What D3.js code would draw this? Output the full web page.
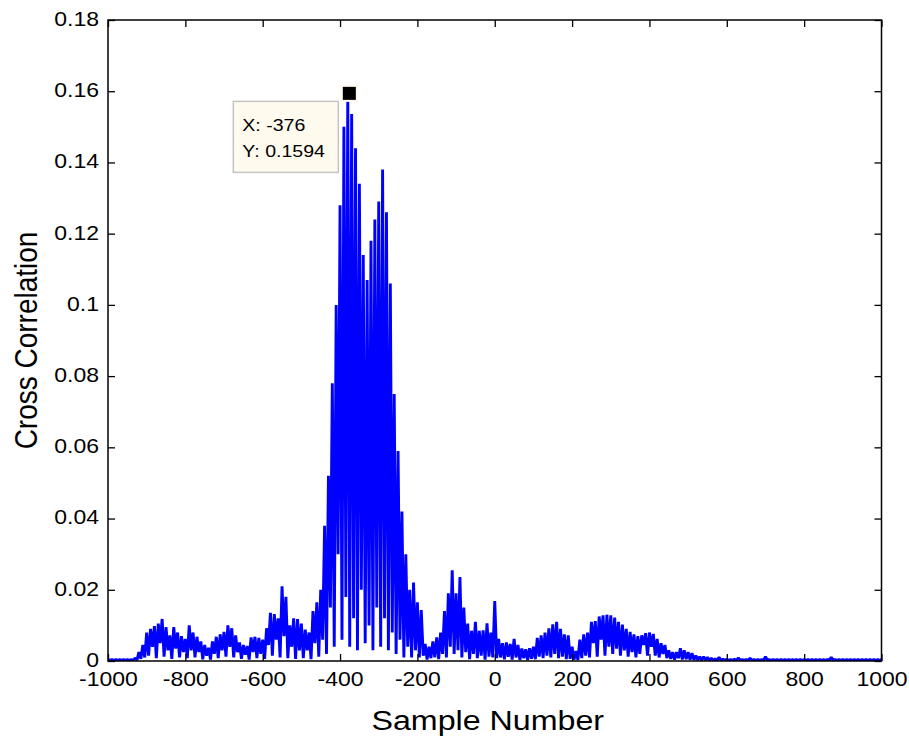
<!DOCTYPE html>
<html>
<head>
<meta charset="utf-8">
<script src="https://cdn.jsdelivr.net/npm/d3@7"></script>
<style>
  html, body { margin: 0; padding: 0; background: #ffffff; }
  svg { display: block; }
  text { font-family: "Liberation Sans", Arial, Helvetica, sans-serif; fill: #000; }
</style>
</head>
<body>
<svg id="chart" width="909" height="738"></svg>
<script>
// ---------------- data ----------------
const lagStart = -1000, lagEnd = 1000, lagStep = 5;
// cross-correlation values, lag -1000 .. 1000 in steps of 5 (one row = 100 lags)
const corrRowM1000 = [.0004,.0002,.0004,.0002,.0004,.0002,.0004,.0002,.0004,.0002,.0004,.0002,.0004,.0002,.0008,.0003,.0025,.0006,.0045,.0010];
const corrRowM900  = [.0080,.0015,.0090,.0040,.0098,.0008,.0105,.0050,.0118,.0012,.0095,.0030,.0072,.0006,.0095,.0035,.0080,.0010,.0070,.0025];
const corrRowM800  = [.0062,.0008,.0100,.0030,.0080,.0010,.0068,.0025,.0055,.0005,.0045,.0015,.0037,.0004,.0055,.0020,.0068,.0008,.0075,.0030];
const corrRowM700  = [.0082,.0012,.0100,.0040,.0092,.0010,.0072,.0025,.0052,.0006,.0045,.0018,.0042,.0004,.0066,.0025,.0068,.0008,.0065,.0020];
const corrRowM600  = [.0060,.0006,.0092,.0045,.0135,.0015,.0132,.0060,.0120,.0010,.0210,.0070,.0180,.0008,.0100,.0040,.0120,.0006,.0118,.0030];
const corrRowM500  = [.0105,.0008,.0088,.0030,.0080,.0005,.0140,.0050,.0165,.0012,.0200,.0060,.0380,.0020,.0520,.0150,.0780,.0040,.1000,.0300];
const corrRowM400  = [.1280,.0060,.1500,.0180,.1594,.0040,.1536,.0120,.1440,.0030,.1340,.0200,.1140,.0050,.1070,.0100,.1180,.0030,.1240,.0150];
const corrRowM300  = [.1290,.0040,.1380,.0120,.1260,.0030,.1060,.0080,.0750,.0020,.0590,.0060,.0420,.0010,.0300,.0040,.0200,.0010,.0220,.0030];
const corrRowM200  = [.0165,.0010,.0143,.0015,.0048,.0004,.0040,.0008,.0055,.0010,.0066,.0005,.0080,.0020,.0140,.0010,.0190,.0040,.0255,.0020];
const corrRowM100  = [.0190,.0030,.0236,.0010,.0150,.0025,.0105,.0005,.0085,.0020,.0110,.0008,.0085,.0015,.0086,.0004,.0106,.0012,.0080,.0010];
const corrRow0     = [.0168,.0008,.0062,.0010,.0050,.0005,.0052,.0012,.0048,.0004,.0062,.0010,.0045,.0003,.0035,.0008,.0033,.0003,.0036,.0006];
const corrRow100   = [.0040,.0005,.0065,.0012,.0072,.0008,.0080,.0015,.0092,.0010,.0103,.0020,.0110,.0008,.0090,.0012,.0075,.0005,.0072,.0006];
const corrRow200   = [.0040,.0004,.0028,.0003,.0060,.0008,.0075,.0015,.0080,.0010,.0110,.0050,.0112,.0012,.0125,.0060,.0128,.0015,.0130,.0040];
const corrRow300   = [.0128,.0020,.0122,.0035,.0110,.0015,.0102,.0030,.0090,.0012,.0082,.0025,.0075,.0010,.0070,.0020,.0072,.0045,.0078,.0015];
const corrRow400   = [.0080,.0040,.0076,.0015,.0062,.0010,.0050,.0020,.0045,.0008,.0030,.0006,.0025,.0004,.0025,.0008,.0036,.0004,.0030,.0005];
const corrRow500   = [.0025,.0004,.0022,.0003,.0015,.0003,.0012,.0003,.0012,.0003,.0010,.0002,.0008,.0002,.0006,.0002,.0010,.0002,.0005,.0002];
const corrRow600   = [.0005,.0002,.0004,.0002,.0005,.0002,.0009,.0002,.0004,.0002,.0004,.0002,.0008,.0002,.0004,.0002,.0004,.0002,.0004,.0002];
const corrRow700   = [.0012,.0002,.0004,.0002,.0004,.0002,.0004,.0002,.0004,.0002,.0004,.0002,.0004,.0002,.0004,.0002,.0004,.0002,.0004,.0002];
const corrRow800   = [.0004,.0002,.0004,.0002,.0004,.0002,.0004,.0002,.0004,.0002,.0004,.0002,.0004,.0002,.0010,.0002,.0004,.0002,.0004,.0002];
const corrRow900   = [.0004,.0002,.0004,.0002,.0004,.0002,.0004,.0002,.0004,.0002,.0004,.0002,.0004,.0002,.0004,.0002,.0004,.0002,.0004,.0002,.0004];

const xTickValues = [-1000, -800, -600, -400, -200, 0, 200, 400, 600, 800, 1000];
const xTickLabels = ["-1000", "-800", "-600", "-400", "-200", "0", "200", "400", "600", "800", "1000"];
const yTickValues = [0, 0.02, 0.04, 0.06, 0.08, 0.1, 0.12, 0.14, 0.16, 0.18];
const yTickLabels = ["0", "0.02", "0.04", "0.06", "0.08", "0.1", "0.12", "0.14", "0.16", "0.18"];

const xLabel = "Sample Number";
const yLabel = "Cross Correlation";
const dataTipX = -376;
const dataTipY = 0.1594;
const dataTipLines = ["X: -376", "Y: 0.1594"];

// ---------------- build ----------------
const corr = [].concat(corrRowM1000, corrRowM900, corrRowM800, corrRowM700, corrRowM600,
  corrRowM500, corrRowM400, corrRowM300, corrRowM200, corrRowM100, corrRow0, corrRow100,
  corrRow200, corrRow300, corrRow400, corrRow500, corrRow600, corrRow700, corrRow800, corrRow900);
const lags = d3.range(lagStart, lagEnd + 1, lagStep);
const series = lags.map((l, i) => ({ lag: l, v: corr[i] }));

const W = 909, H = 738;
const margin = { left: 108, right: 27.5, top: 20, bottom: 77 };
const x0 = margin.left, x1 = W - margin.right, y0 = H - margin.bottom, y1 = margin.top;
const TEXT_STRETCH = 1.15;

const x = d3.scaleLinear().domain([-1000, 1000]).range([x0, x1]);
const y = d3.scaleLinear().domain([0, 0.18]).range([y0, y1]);

const svg = d3.select("#chart");
svg.append("rect").attr("width", W).attr("height", H).attr("fill", "#fff");

svg.append("defs").append("clipPath").attr("id", "plotClip")
  .append("rect").attr("x", x0).attr("y", y1 - 1).attr("width", x1 - x0).attr("height", y0 - y1 + 1);

// series line
const line = d3.line().x(d => x(d.lag)).y(d => y(d.v));
svg.append("path")
  .datum(series)
  .attr("clip-path", "url(#plotClip)")
  .attr("d", line)
  .attr("fill", "none")
  .attr("stroke", "#0000ff")
  .attr("stroke-width", 2.9)
  .attr("stroke-linejoin", "bevel");

// axes (inward ticks, box)
const TICK = 7;
const fontTick = 20;

const gx = svg.append("g").attr("transform", `translate(0,${y0})`)
  .call(d3.axisBottom(x).tickValues(xTickValues).tickFormat((d, i) => xTickLabels[i])
    .tickSizeInner(-TICK).tickSizeOuter(0).tickPadding(11));
const gxTop = svg.append("g").attr("transform", `translate(0,${y1})`)
  .call(d3.axisTop(x).tickValues(xTickValues).tickFormat("").tickSizeInner(-TICK).tickSizeOuter(0));
const gy = svg.append("g").attr("transform", `translate(${x0},0)`)
  .call(d3.axisLeft(y).tickValues(yTickValues).tickFormat((d, i) => yTickLabels[i])
    .tickSizeInner(-TICK).tickSizeOuter(0).tickPadding(9));
const gyRight = svg.append("g").attr("transform", `translate(${x1},0)`)
  .call(d3.axisRight(y).tickValues(yTickValues).tickFormat("").tickSizeInner(-TICK).tickSizeOuter(0));

[gx, gxTop, gy, gyRight].forEach(g => {
  g.select(".domain").remove();
  g.selectAll(".tick line").attr("stroke", "#000").attr("stroke-width", 1.3);
  g.selectAll("text").attr("font-size", fontTick).attr("font-family", null).attr("fill", "#000");
});
gx.selectAll(".tick text").attr("transform", `scale(${TEXT_STRETCH},1)`);
gy.selectAll(".tick text").each(function () {
  const t = d3.select(this);
  const px = +t.attr("x");
  t.attr("x", 0).attr("transform", `translate(${px},-1) scale(${TEXT_STRETCH},1)`);
});

// plot box
svg.append("rect")
  .attr("x", x0).attr("y", y1).attr("width", x1 - x0).attr("height", y0 - y1)
  .attr("fill", "none").attr("stroke", "#000").attr("stroke-width", 1.5);

// axis labels
svg.append("text")
  .attr("transform", `translate(${(x0 + x1) / 2 - 7},${H - 8}) scale(${TEXT_STRETCH},1)`)
  .attr("text-anchor", "middle")
  .attr("font-size", 28)
  .text(xLabel);
svg.append("text")
  .attr("transform", `translate(${37},${(y0 + y1) / 2}) scale(${TEXT_STRETCH},1) rotate(-90)`)
  .attr("text-anchor", "middle")
  .attr("font-size", 28)
  .text(yLabel);

// data tip marker + box
const mx = x(dataTipX), my = y(dataTipY);
svg.append("rect")
  .attr("x", mx - 8.5).attr("y", my - 8.5).attr("width", 17).attr("height", 17)
  .attr("fill", "#fff8ee");
svg.append("rect")
  .attr("x", mx - 6.5).attr("y", my - 6.5).attr("width", 13).attr("height", 13)
  .attr("fill", "#000");

const tip = svg.append("g").attr("transform", `translate(${mx - 116},${my + 8})`);
tip.append("rect")
  .attr("x", 0).attr("y", 0).attr("width", 105).attr("height", 71)
  .attr("fill", "#fffaee").attr("stroke", "#c4c4c4").attr("stroke-width", 1.5);
tip.selectAll("text.tip").data(dataTipLines).join("text")
  .attr("class", "tip")
  .attr("transform", (d, i) => `translate(9,${30 + i * 26}) scale(${TEXT_STRETCH},1)`)
  .attr("font-size", 17)
  .text(d => d);
</script>
</body>
</html>
